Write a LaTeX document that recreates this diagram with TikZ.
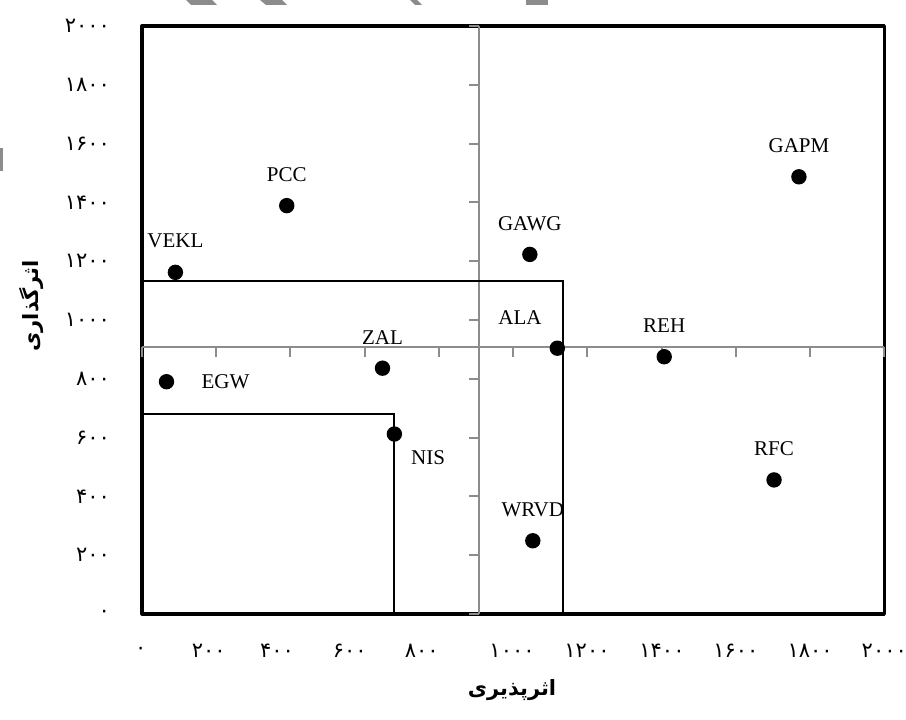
\documentclass[tikz,border=0pt]{standalone}
\usepackage{fontspec}
\setmainfont{Liberation Serif}
\newfontfamily\farsi[Script=Arabic]{DejaVu Sans}
\TeXXeTstate=1
\usetikzlibrary{positioning}
\definecolor{axisgray}{RGB}{140,140,140}
\begin{document}
\begin{tikzpicture}[x=0.37115pt, y=0.294pt,
	dot/.style={circle, fill, inner sep=0pt, minimum size=15.4pt},
	tag/.style={inner sep=0pt, font=\fontsize{21}{25}\selectfont},
	num/.style={inner sep=0pt, font=\farsi\fontsize{21}{24}\selectfont},
	title/.style={inner sep=0pt, font=\farsi\bfseries\fontsize{21}{24}\selectfont},
	axis/.style={axisgray, line width=2pt},
	frame/.style={line width=3.2pt, line join=round},
	zone/.style={line width=2pt}]
	\useasboundingbox (-382.6,-360.5) rectangle (2058.5,2088.4);
	\coordinate (tl) at (-382.6,2088.4);
	\begin{scope}[shift={(tl)}, x=1pt, y=-1pt, fill=axisgray]
		\fill (186,0) -- (212,0) -- (217,5) -- (191,5) -- cycle;
		\fill (260,0) -- (282,0) -- (287,5) -- (266,5) -- cycle;
		\fill (410,0) -- (417,0) -- (422,5) -- (415,5) -- cycle;
		\fill (526,0) rectangle (548,5);
		\fill (0,148) rectangle (3,171);
	\end{scope}
	
	\draw[frame] (0,0) rectangle (2000,2000);
	\draw[axis] (0,909) -- (2000,909);
	\draw[axis] (909,0) -- (909,2000);
	\foreach \x in {0,200,...,2000}
		\draw[axis] (\x,909) -- ++(0,-34);
	\foreach \y in {0,200,...,2000}
		\draw[axis] (909,\y) -- ++(-27,0);
	
	\foreach \y/\t in {0/۰, 200/۲۰۰, 400/۴۰۰, 600/۶۰۰, 800/۸۰۰, 1000/۱۰۰۰, 1200/۱۲۰۰, 1400/۱۴۰۰, 1600/۱۶۰۰, 1800/۱۸۰۰, 2000/۲۰۰۰}
		\node[num, anchor=east] (y\y) at (-86,\y) {\t};
	\foreach \x/\p/\t in {0/-3/۰, 200/180/۲۰۰, 400/364/۴۰۰, 600/560/۶۰۰, 800/754/۸۰۰, 1000/997/۱۰۰۰, 1200/1199/۱۲۰۰, 1400/1401/۱۴۰۰, 1600/1600/۱۶۰۰, 1800/1800/۱۸۰۰, 2000/2000/۲۰۰۰}
		\node[num] (x\x) at (\p,-126) {\t};
	
	\node[title, rotate=90] (ytitle) at (-299,1048) {\beginR اثرگذاری\endR};
	\node[title] (xtitle) at (997,-258) {\beginR اثرپذیری\endR};
	
	\draw[zone] (0,1134) -| (1135,0);
	\draw[zone] (0,681) -| (680,0);
	
	\node[dot] (vekl) at (90,1162) {};
	\node[dot] (pcc) at (390,1389) {};
	\node[dot] (gapm) at (1770,1487) {};
	\node[dot] (gawg) at (1045,1223) {};
	\node[dot] (ala) at (1119,904) {};
	\node[dot] (reh) at (1407,875) {};
	\node[dot] (zal) at (648,836) {};
	\node[dot] (egw) at (66,790) {};
	\node[dot] (nis) at (680,612) {};
	\node[dot] (rfc) at (1703,456) {};
	\node[dot] (wrvd) at (1053,249) {};
	
	\node[tag, above=16pt of vekl] (vekl-t) {VEKL};
	\node[tag, above=16pt of pcc] (pcc-t) {PCC};
	\node[tag, above=16pt of gapm] (gapm-t) {GAPM};
	\node[tag, above=16pt of gawg] (gawg-t) {GAWG};
	\node[tag, above left=18pt and 10pt of ala] (ala-t) {ALA};
	\node[tag, above=16pt of reh] (reh-t) {REH};
	\node[tag, above=16pt of zal] (zal-t) {ZAL};
	\node[tag, right=27pt of egw] (egw-t) {EGW};
	\node[tag, below right=11pt and 11pt of nis] (nis-t) {NIS};
	\node[tag, above=16pt of rfc] (rfc-t) {RFC};
	\node[tag, above=16pt of wrvd] (wrvd-t) {WRVD};
\end{tikzpicture}
\end{document}
